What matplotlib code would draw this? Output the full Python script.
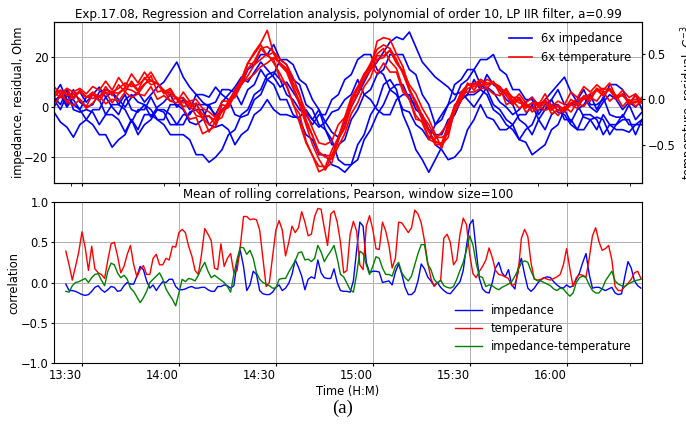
import numpy as np
import pandas as pd
import matplotlib
matplotlib.use('Agg')
import matplotlib.pyplot as plt
import matplotlib.dates as mdates

plt.rcParams['font.size'] = 8.3

# residuals, sampled every 2 minutes
t_res = pd.date_range('2021-08-17 13:21:20', periods=92, freq='2min')

imp_1 = [2, 5, 0, 4, 6, 2, 5, 8, 4, 6,
         3, 0, 4, 6, 2, 5, 8, 10, 14, 18,
         12, 8, 5, 2, 0, -3, 2, 5, 8, 12,
         10, 14, 18, 15, 12, 8, 10, 6, 2, -2,
         -5, -8, -6, -10, -12, -6, 0, 5, 10, 15,
         18, 22, 26, 28, 27, 30, 24, 18, 15, 12,
         10, 8, 5, 6, 3, 0, 4, 8, 6, 2,
         0, -3, -1, 2, 4, 0, 3, 6, 9, 12,
         6, 2, 4, 0, -2, 2, 5, 3, -1, 2,
         0, 3]
imp_2 = [-2, -6, -8, -12, -7, -5, -1, -1, 4, 0,
         -3, 3, 5, 2, 1, -4, 0, 2, 5, 0,
         3, -1, 5, 5, 4, 8, 5, 3, -3, -4,
         -3, 3, 5, 11, 13, 19, 19, 17, 11, 9,
         3, -1, -9, -13, -21, -23, -23, -15, -11, -3,
         1, 9, 11, 7, -3, -9, -17, -21, -26, -21,
         -16, -7, -3, 3, 5, 5, 7, 13, 9, 7,
         3, 1, -5, -7, -11, -5, -9, -3, -1, -1,
         -6, -1, 1, 5, -1, 4, -3, -4, -4, 1,
         -5, -2]
imp_3 = [3, -1, 5, 1, -1, -5, -7, -11, -11, -16,
         -13, -11, -5, -9, -3, -3, -5, -5, 1, 1,
         -1, -6, -7, -5, 1, 2, 7, 7, 6, 1,
         7, 9, 15, 11, 9, 3, 3, -3, -5, -11,
         -13, -19, -19, -23, -24, -26, -23, -21, -13, -9,
         -3, 1, 7, 9, 9, 3, 1, -5, -9, -15,
         -17, -21, -20, -17, -9, -5, 1, -4, -5, -9,
         -9, -7, -3, -3, 1, -5, -1, 1, 1, -5,
         -5, -9, -3, -3, -5, -11, -7, -7, -3, -7,
         -7, -5]
imp_4 = [0, 5, 1, 7, 2, 0, 1, 6, 7, 6,
         1, 5, -1, -2, 1, -1, -5, -7, -11, -11,
         -11, -13, -19, -19, -22, -20, -17, -11, -9, -3,
         -1, 5, 7, 13, 14, 11, 5, 3, -1, -3,
         -7, -3, -3, 3, 5, 11, 13, 19, 21, 21,
         15, 13, 7, 5, -1, -2, -7, -9, -13, -7,
         -5, 1, 3, 9, 11, 15, 9, 7, 1, -1,
         -5, -7, -13, -9, -7, -1, -1, 3, -2, -3,
         -7, -9, -9, -5, -4, -5, -11, -7, -5, -5,
         -11, -5]
imp_5 = [4, 1, 7, -1, -2, -1, -2, -7, -3, -3,
         -5, -10, -5, -11, -7, -5, -1, -1, -3, -7,
         -3, -3, 1, 1, 1, -4, -1, 1, 6, 9,
         15, 17, 21, 21, 25, 19, 17, 11, 9, 1,
         -1, -7, -9, -15, -15, -13, -5, -1, 5, 7,
         13, 15, 21, 21, 21, 15, 13, 5, 1, -7,
         -3, 1, 9, 11, 15, 15, 19, 19, 21, 15,
         13, 7, 7, 3, 3, -3, 1, 3, 7, 1,
         1, 3, 7, 1, 1, 3, 9, 9, 7, 1,
         5, -1]
imp_6 = [5, 9, 3, 3, -1, 4, 5, 3, -3, 1,
         1, -1, -6, -1, -1, 4, -1, -2, -7, -7,
         -7, -2, -1, -1, -7, -8, -7, -9, -15, -11,
         -9, -3, -1, 3, -1, -3, -3, -4, -4, -1,
         -5, -1, -6, -2, -1, 3, 5, 11, 5, 3,
         -1, -3, -3, 3, 5, 5, -1, -3, -9, -11,
         -11, -5, -3, 3, 5, 11, 7, 5, -1, -3,
         -7, -9, -13, -14, -19, -17, -15, -9, -7, -1,
         1, 1, -4, -5, -9, -3, -7, -9, -9, -10,
         -7, -7]

temp_1 = [0.08, 0.10, 0.04, 0.06, 0.08, 0.02, 0.05, 0.03, 0.10, 0.08,
          0.12, 0.18, 0.14, 0.16, 0.22, 0.30, 0.18, 0.10, 0.04, 0.02,
          -0.04, -0.02, -0.12, -0.20, -0.28, -0.20, -0.14, -0.02, 0.08, 0.22,
          0.40, 0.52, 0.62, 0.76, 0.50, 0.38, 0.30, 0.12, -0.06, -0.28,
          -0.50, -0.66, -0.78, -0.62, -0.46, -0.22, -0.02, 0.12, 0.26, 0.40,
          0.55, 0.60, 0.56, 0.44, 0.28, 0.10, -0.06, -0.22, -0.36, -0.46,
          -0.50, -0.34, -0.10, 0.08, 0.16, 0.18, 0.14, 0.22, 0.18, 0.14,
          0.06, 0.02, -0.04, -0.06, -0.10, -0.04, -0.08, -0.06, -0.12, -0.10,
          -0.04, 0.00, 0.02, 0.06, 0.10, 0.12, 0.10, 0.04, 0.04, -0.02,
          -0.04, 0.02]
temp_2 = [-0.06, 0.04, -0.02, -0.07, 0.00, -0.10, -0.04, 0.04, -0.05, 0.00,
          -0.02, 0.08, 0.02, 0.06, 0.04, 0.14, 0.00, 0.04, -0.02, -0.04,
          0.08, -0.02, 0.00, -0.10, -0.14, -0.20, -0.02, -0.02, 0.10, 0.18,
          0.22, 0.28, 0.36, 0.40, 0.46, 0.40, 0.34, 0.18, 0.04, -0.14,
          -0.32, -0.48, -0.50, -0.46, -0.28, -0.20, 0.02, 0.14, 0.28, 0.38,
          0.28, 0.40, 0.30, 0.30, 0.08, 0.00, -0.22, -0.24, -0.42, -0.44,
          -0.36, -0.26, -0.08, 0.06, 0.16, 0.16, 0.22, 0.18, 0.18, 0.14,
          -0.06, -0.02, -0.10, -0.04, -0.14, -0.08, -0.12, -0.10, -0.18, -0.08,
          -0.14, -0.04, -0.08, 0.02, -0.02, 0.08, -0.02, 0.04, -0.08, 0.00,
          -0.08, -0.02]
temp_3 = [0.14, 0.06, 0.12, 0.08, 0.12, 0.06, 0.14, 0.10, 0.20, 0.10,
          0.24, 0.14, 0.28, 0.18, 0.30, 0.20, 0.18, 0.08, 0.12, 0.00,
          -0.10, -0.22, -0.20, -0.38, -0.34, -0.30, -0.12, -0.06, 0.10, 0.22,
          0.40, 0.50, 0.60, 0.48, 0.44, 0.22, 0.16, -0.06, -0.16, -0.46,
          -0.62, -0.74, -0.74, -0.56, -0.42, -0.20, -0.04, 0.12, 0.22, 0.38,
          0.50, 0.56, 0.42, 0.34, 0.12, 0.00, -0.18, -0.26, -0.44, -0.48,
          -0.48, -0.28, -0.10, 0.06, 0.08, 0.08, 0.12, 0.12, 0.06, 0.04,
          0.12, -0.02, 0.06, -0.04, 0.02, -0.06, 0.06, -0.08, -0.02, -0.06,
          0.08, 0.02, 0.14, 0.08, 0.16, 0.10, 0.18, 0.02, 0.10, 0.02,
          0.06, -0.02]
temp_4 = [0.05, 0.09, 0.07, 0.01, 0.09, 0.03, 0.01, 0.03, 0.07, 0.07,
          0.07, 0.13, 0.17, 0.09, 0.17, 0.21, 0.17, 0.09, 0.07, 0.01,
          0.01, -0.05, -0.05, -0.17, -0.19, -0.23, -0.13, -0.09, 0.05, 0.17,
          0.34, 0.42, 0.56, 0.58, 0.52, 0.38, 0.32, 0.14, -0.02, -0.26,
          -0.40, -0.60, -0.62, -0.62, -0.44, -0.32, -0.08, 0.06, 0.22, 0.32,
          0.48, 0.48, 0.54, 0.40, 0.30, 0.10, -0.02, -0.18, -0.28, -0.42,
          -0.42, -0.38, -0.14, -0.02, 0.12, 0.14, 0.16, 0.16, 0.18, 0.10,
          0.10, 0.02, 0.02, -0.08, -0.04, -0.04, -0.04, -0.10, -0.08, -0.10,
          -0.06, -0.04, 0.00, 0.02, 0.10, 0.04, 0.12, 0.04, 0.04, -0.02,
          0.00, -0.02]
temp_5 = [0.02, 0.10, -0.04, 0.06, 0.00, -0.08, 0.06, -0.02, 0.08, -0.04,
          0.06, 0.12, 0.10, 0.06, 0.16, 0.26, 0.08, 0.10, -0.02, 0.02,
          -0.08, -0.06, -0.18, -0.20, -0.36, -0.24, -0.20, -0.02, 0.02, 0.16,
          0.26, 0.38, 0.44, 0.50, 0.40, 0.28, 0.14, -0.04, -0.26, -0.48,
          -0.62, -0.80, -0.76, -0.70, -0.44, -0.30, 0.00, 0.06, 0.28, 0.34,
          0.64, 0.68, 0.66, 0.50, 0.36, 0.12, -0.04, -0.20, -0.34, -0.50,
          -0.50, -0.42, -0.10, 0.02, 0.16, 0.16, 0.20, 0.16, 0.18, 0.12,
          0.04, -0.06, 0.00, -0.14, -0.10, -0.12, -0.02, -0.16, -0.12, -0.14,
          -0.06, -0.10, 0.02, -0.02, 0.12, 0.08, 0.10, 0.00, 0.06, -0.06,
          -0.02, -0.04]
temp_6 = [0.08, 0.02, 0.12, 0.00, 0.10, 0.02, 0.08, 0.02, 0.14, 0.04,
          0.16, 0.08, 0.20, 0.10, 0.24, 0.16, 0.18, 0.06, 0.10, 0.00,
          0.02, -0.10, -0.04, -0.22, -0.18, -0.28, -0.06, -0.08, 0.10, 0.16,
          0.40, 0.38, 0.56, 0.48, 0.52, 0.44, 0.38, 0.24, 0.06, -0.22,
          -0.40, -0.58, -0.64, -0.66, -0.52, -0.38, -0.16, -0.04, 0.14, 0.24,
          0.44, 0.46, 0.54, 0.40, 0.32, 0.16, 0.06, -0.10, -0.22, -0.38,
          -0.54, -0.34, -0.06, 0.00, 0.18, 0.10, 0.20, 0.12, 0.20, 0.06,
          0.08, -0.04, 0.02, -0.10, -0.04, -0.08, 0.00, -0.12, -0.06, -0.12,
          0.00, -0.06, 0.04, 0.02, 0.12, 0.04, 0.12, 0.00, 0.06, -0.04,
          0.04, -0.04]

# rolling correlations, one value per minute
t_corr = pd.date_range('2021-08-17 13:25:00', periods=179, freq='1min')

corr_imp = [-0.02, -0.10, -0.10, -0.11, -0.13, -0.15, -0.16, -0.15, -0.11, -0.06,
            -0.04, -0.09, -0.12, -0.09, -0.05, -0.06, -0.11, -0.10, -0.04, 0.00,
            -0.02, -0.02, 0.08, 0.20, 0.16, 0.02, -0.07, -0.03, -0.10, -0.04,
            0.01, 0.00, 0.04, 0.04, -0.05, -0.09, -0.09, -0.08, -0.06, -0.05,
            -0.07, -0.07, -0.06, -0.06, -0.09, -0.11, -0.11, -0.05, -0.05, -0.03,
            -0.04, -0.07, -0.04, 0.24, 0.40, 0.20, -0.10, -0.03, 0.14, 0.10,
            -0.10, -0.14, -0.15, -0.15, -0.12, -0.06, -0.03, -0.10, -0.07, -0.01,
            0.10, 0.28, 0.19, 0.08, -0.09, 0.04, 0.07, 0.05, 0.28, 0.12,
            0.06, 0.05, 0.05, 0.17, 0.00, -0.10, -0.11, -0.11, -0.12, 0.02,
            0.40, 0.75, 0.70, 0.25, 0.12, 0.14, 0.14, 0.13, 0.00, 0.01,
            0.02, -0.03, 0.13, 0.23, 0.10, -0.06, -0.15, -0.15, -0.11, 0.02,
            0.23, 0.17, 0.07, 0.02, -0.04, 0.00, -0.06, -0.10, -0.13, -0.14,
            -0.09, -0.04, 0.01, 0.15, 0.45, 0.72, 0.78, 0.40, 0.05, -0.08,
            -0.12, -0.13, 0.00, 0.18, 0.25, 0.12, 0.07, 0.16, -0.03, -0.08,
            0.18, 0.30, 0.10, -0.07, -0.11, -0.07, -0.01, 0.03, 0.06, 0.07,
            0.06, 0.01, -0.03, -0.06, -0.07, -0.03, -0.06, -0.04, 0.04, 0.12,
            0.25, 0.36, 0.10, -0.07, -0.06, -0.06, -0.08, -0.10, -0.08, -0.06,
            -0.13, -0.15, -0.14, 0.07, 0.26, 0.18, 0.02, -0.04, -0.07]
corr_temp = [0.39, 0.22, 0.03, 0.20, 0.38, 0.63, 0.43, 0.15, 0.45, 0.17,
             0.12, 0.10, 0.05, 0.28, 0.48, 0.50, 0.33, 0.12, 0.20, 0.35,
             0.46, 0.22, 0.07, 0.16, 0.21, 0.10, 0.10, 0.30, 0.35, 0.22,
             0.22, 0.30, 0.28, 0.45, 0.44, 0.62, 0.66, 0.62, 0.45, 0.33,
             0.15, 0.10, 0.35, 0.67, 0.60, 0.52, 0.18, 0.16, 0.48, 0.20,
             0.30, 0.36, 0.12, 0.15, 0.45, 0.82, 0.82, 0.78, 0.79, 0.78,
             0.65, 0.30, -0.05, 0.00, 0.33, 0.65, 0.77, 0.65, 0.33, 0.50,
             0.70, 0.62, 0.68, 0.88, 0.75, 0.58, 0.60, 0.82, 0.92, 0.91,
             0.68, 0.46, 0.85, 0.89, 0.75, 0.50, 0.12, 0.15, 0.60, 0.76,
             0.64, 0.22, 0.16, 0.70, 0.83, 0.66, 0.42, 0.41, 0.75, 0.64,
             0.46, 0.18, 0.30, 0.75, 0.74, 0.68, 0.62, 0.68, 0.90, 0.85,
             0.74, 0.52, 0.25, 0.05, -0.05, 0.00, 0.02, 0.55, 0.60, 0.50,
             0.22, 0.28, 0.60, 0.80, 0.72, 0.35, 0.11, 0.06, 0.14, 0.20,
             0.28, 0.43, 0.31, 0.15, 0.10, 0.09, 0.07, 0.05, -0.04, -0.02,
             0.12, 0.55, 0.66, 0.57, 0.24, 0.04, 0.03, 0.04, 0.06, 0.04,
             0.03, 0.05, 0.07, 0.10, 0.22, 0.42, 0.17, -0.05, 0.06, 0.10,
             0.09, 0.07, 0.30, 0.58, 0.68, 0.51, 0.40, 0.42, 0.46, 0.28,
             -0.05, -0.10, -0.10, -0.05, -0.01, 0.04, 0.12, 0.14, 0.05]
corr_cross = [-0.11, -0.12, -0.04, 0.00, 0.01, 0.03, 0.05, 0.00, 0.06, 0.10,
              0.11, 0.03, -0.04, 0.14, 0.24, 0.22, 0.12, 0.06, 0.09, 0.04,
              -0.07, -0.11, -0.18, -0.25, -0.19, -0.11, 0.00, 0.04, 0.08, 0.12,
              0.04, -0.08, -0.15, -0.21, -0.29, -0.13, 0.04, 0.01, 0.05, 0.04,
              0.02, 0.09, 0.18, 0.25, 0.14, 0.06, 0.09, 0.06, 0.03, 0.00,
              -0.05, -0.12, 0.10, 0.29, 0.44, 0.43, 0.35, 0.40, 0.30, 0.12,
              0.04, 0.00, -0.02, -0.04, -0.07, -0.07, 0.04, 0.05, 0.05, 0.13,
              0.20, 0.27, 0.37, 0.38, 0.28, 0.29, 0.26, 0.30, 0.46, 0.38,
              0.26, 0.33, 0.39, 0.46, 0.30, 0.10, 0.07, -0.01, -0.09, -0.12,
              0.10, 0.39, 0.36, 0.22, 0.10, 0.20, 0.32, 0.30, 0.18, 0.10,
              0.10, 0.08, 0.20, 0.25, 0.12, 0.06, 0.02, 0.08, 0.22, 0.36,
              0.47, 0.47, 0.23, 0.16, 0.04, -0.01, 0.03, -0.04, -0.06, -0.07,
              -0.05, 0.04, 0.15, 0.25, 0.40, 0.58, 0.47, 0.24, 0.08, 0.06,
              -0.05, -0.03, -0.04, -0.07, -0.09, -0.06, -0.04, -0.02, 0.01, 0.08,
              0.16, 0.24, 0.27, 0.25, 0.14, 0.05, 0.02, 0.02, 0.00, -0.02,
              -0.04, -0.08, -0.10, -0.07, -0.08, -0.13, -0.17, -0.13, 0.00, 0.06,
              0.08, 0.06, -0.03, -0.10, -0.13, -0.13, -0.08, 0.02, 0.08, 0.14,
              0.02, -0.02, -0.04, -0.05, -0.02, 0.00, 0.02, 0.03, 0.04]

# odd extra ticks seen under the upper panel
extra_ticks = pd.to_datetime(['2021-08-17 13:26:30', '2021-08-17 13:55:20',
                              '2021-08-17 14:24:20', '2021-08-17 14:53:10',
                              '2021-08-17 15:22:00', '2021-08-17 15:51:00',
                              '2021-08-17 16:19:40'])

fig = plt.figure(figsize=(6.86, 4.30), dpi=100)
ax1 = fig.add_axes([54/686, 1-183/430, 588/686, 161/430])
ax3 = fig.add_axes([54/686, 1-363/430, 588/686, 161/430])

# upper panel
for y in [imp_1, imp_2, imp_3, imp_4, imp_5, imp_6]:
    l_imp, = ax1.plot(t_res, y, color='blue', lw=1.2)
ax1.set_ylim(-30.3, 34)
ax1.set_yticks([-20, 0, 20])
ax1.set_ylabel('impedance, residual, Ohm')
ax1.yaxis.set_label_coords(-0.049, 0.5)
ax1.grid(True, color='#b0b0b0', lw=0.7)
ax1.set_title('Exp.17.08, Regression and Correlation analysis, polynomial of order 10, LP IIR filter, a=0.99',
              fontsize=8.6, pad=3)

ax2 = ax1.twinx()
for y in [temp_1, temp_2, temp_3, temp_4, temp_5, temp_6]:
    l_temp, = ax2.plot(t_res, y, color='red', lw=1.2)
ax2.set_ylim(-0.923, 0.852)
ax2.set_yticks([-0.5, 0.0, 0.5])
ax2.set_ylabel('temperature, residual, $C^{-3}$')
ax2.yaxis.set_label_coords(1.064, 0.5)
ax2.legend([l_imp, l_temp], ['6x impedance', '6x temperature'],
           loc='upper right', frameon=False)

# lower panel
ax3.plot(t_corr, corr_imp, color='blue', lw=1.0, label='impedance')
ax3.plot(t_corr, corr_temp, color='red', lw=1.0, label='temperature')
ax3.plot(t_corr, corr_cross, color='green', lw=1.0, label='impedance-temperature')
ax3.set_ylim(-1, 1)
ax3.set_yticks([-1.0, -0.5, 0.0, 0.5, 1.0])
ax3.set_ylabel('correlation')
ax3.yaxis.set_label_coords(-0.058, 0.5)
ax3.set_xlabel('Time (H:M)', labelpad=2.5)
ax3.grid(True, color='#b0b0b0', lw=0.7)
ax3.set_title('Mean of rolling correlations, Pearson, window size=100', fontsize=8.6, pad=3)
ax3.legend(loc='lower right', frameon=False, handlelength=2.3, labelspacing=0.4)

for ax in (ax1, ax3):
    ax.set_xlim(t_res[0], t_res[-1])
    ax.xaxis.set_major_locator(mdates.MinuteLocator(byminute=[0, 30]))
    ax.xaxis.set_major_formatter(mdates.DateFormatter('%H:%M'))
ax1.tick_params(axis='x', labelbottom=False)
ax1.set_xticks(extra_ticks, minor=True)
ax3.set_xticks(extra_ticks[-1:], minor=True)
for ax in (ax1, ax2, ax3):
    ax.tick_params(which='both', length=2.5, pad=1.5)
for lab in ax3.get_xticklabels():
    lab.set_ha('right')

fig.text(0.5, 0.05, '(a)', ha='center', va='center', family='Liberation Serif', fontsize=13.5)

fig.savefig('out.png', dpi=100)
